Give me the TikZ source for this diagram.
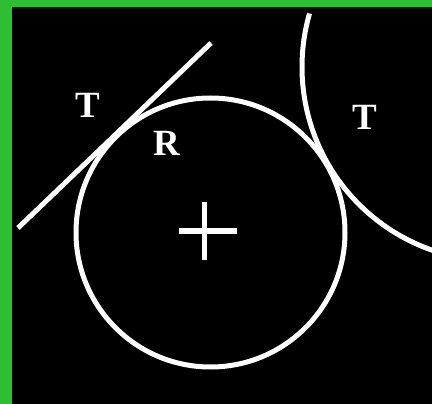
\documentclass[tikz,border=0pt]{standalone}
\usepackage{fontspec}
\setmainfont{Liberation Serif}
\definecolor{grass}{HTML}{2EBE33}

\begin{document}
\begin{tikzpicture}[x=1pt,y=-1pt,
  lbl/.style={text=white,font=\fontsize{37}{37}\selectfont\bfseries,inner sep=0pt},
  curve/.style={white,line width=5pt}]
 \fill[grass] (0,0) rectangle (432,404);
 \fill[black] (12,7) rectangle (432,404);
 \begin{scope}
  \clip (12,7) rectangle (432,404);
  \coordinate (wheel) at (210.5,232.5);
  \coordinate (other) at (496,67);
  \draw[curve] (wheel) circle (134.5pt);
  \draw[curve] ([shift={(196:194)}]other) arc[start angle=196,end angle=100,radius=194];
  \coordinate (lineA) at (18,228);
  \coordinate (lineB) at (211,43);
  \draw[curve] (lineA)--(lineB);
  % the centre mark
  \draw[white,line width=5.5pt] (179,231)--(237,231);
  \draw[white,line width=5.5pt] (204.5,202)--(204.5,260);
 \end{scope}
 \node[lbl] (tleft) at (88,105.5) {T};
 \node[lbl] (rad) at (167,143) {R};
 \node[lbl] (tright) at (365,117) {T};
\end{tikzpicture}
\end{document}
